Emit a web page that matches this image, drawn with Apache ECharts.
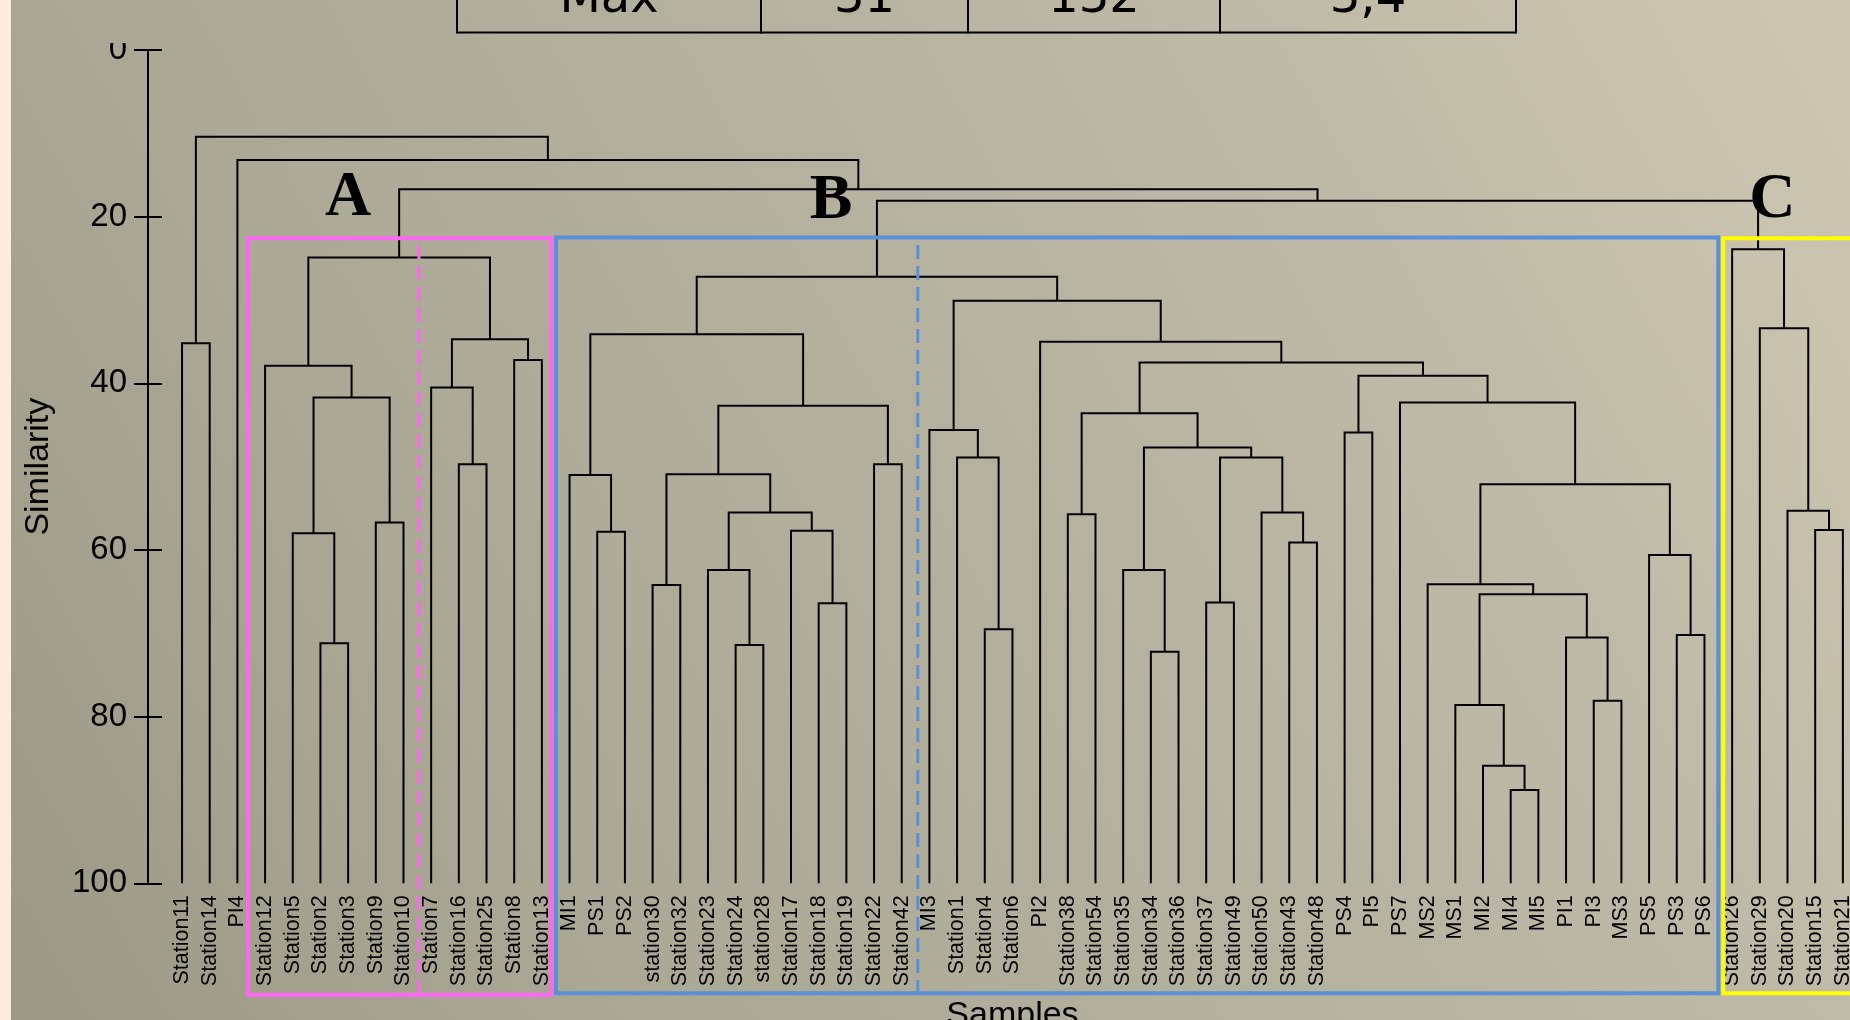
<!DOCTYPE html>
<html>
<head>
<meta charset="utf-8">
<script src="https://cdn.jsdelivr.net/npm/echarts@6/dist/echarts.min.js"></script>
<style>
html, body { margin: 0; padding: 0; background: #b1ae9c; }
#main { width: 1850px; height: 1020px; }
</style>
</head>
<body>
<div id="main"></div>
<script>
// leaves of the dendrogram, left to right
var leaves = ['Station11', 'Station14', 'PI4', 'Station12', 'Station5', 'Station2', 'Station3', 'Station9',
    'Station10', 'Station7', 'Station16', 'Station25', 'Station8', 'Station13', 'MI1', 'PS1', 'PS2',
    'station30', 'Station32', 'Station23', 'Station24', 'station28', 'Station17', 'Station18', 'Station19',
    'Station22', 'Station42', 'MI3', 'Station1', 'Station4', 'Station6', 'PI2', 'Station38', 'Station54',
    'Station35', 'Station34', 'Station36', 'Station37', 'Station49', 'Station50', 'Station43', 'Station48',
    'PS4', 'PI5', 'PS7', 'MS2', 'MS1', 'MI2', 'MI4', 'MI5', 'PI1', 'PI3', 'MS3', 'PS5', 'PS3', 'PS6',
    'Station26', 'Station29', 'Station20', 'Station15', 'Station21'];

// merges: [left, right, similarity] - a string is a leaf, a number is an earlier merge (row index)
var merges = [
    ['Station2', 'Station3', 71.2],   // 0
    ['Station5', 0, 58.0],            // 1
    ['Station9', 'Station10', 56.7],  // 2
    [1, 2, 41.7],                     // 3
    ['Station12', 3, 37.9],           // 4
    ['Station16', 'Station25', 49.7], // 5
    ['Station7', 5, 40.5],            // 6
    ['Station8', 'Station13', 37.2],  // 7
    [6, 7, 34.7],                     // 8
    [4, 8, 24.9],                     // 9  A
    ['Station11', 'Station14', 35.2], // 10
    ['PS1', 'PS2', 57.8],             // 11
    ['MI1', 11, 51.0],                // 12
    ['station30', 'Station32', 64.2], // 13
    ['Station24', 'station28', 71.4], // 14
    ['Station23', 14, 62.4],          // 15
    ['Station18', 'Station19', 66.4], // 16
    ['Station17', 16, 57.7],          // 17
    [15, 17, 55.5],                   // 18
    [13, 18, 50.9],                   // 19
    ['Station22', 'Station42', 49.7], // 20
    [19, 20, 42.7],                   // 21
    [12, 21, 34.1],                   // 22
    ['Station4', 'Station6', 69.5],   // 23
    ['Station1', 23, 48.9],           // 24
    ['MI3', 24, 45.6],                // 25
    ['Station38', 'Station54', 55.7], // 26
    ['Station34', 'Station36', 72.2], // 27
    ['Station35', 27, 62.4],          // 28
    ['Station37', 'Station49', 66.3], // 29
    ['Station43', 'Station48', 59.1], // 30
    ['Station50', 30, 55.5],          // 31
    [29, 31, 48.9],                   // 32
    [28, 32, 47.7],                   // 33
    [26, 33, 43.6],                   // 34
    ['PS4', 'PI5', 45.9],             // 35
    ['MI4', 'MI5', 88.8],             // 36
    ['MI2', 36, 85.9],                // 37
    ['MS1', 37, 78.6],                // 38
    ['PI3', 'MS3', 78.1],             // 39
    ['PI1', 39, 70.5],                // 40
    [38, 40, 65.3],                   // 41
    ['MS2', 41, 64.1],                // 42
    ['PS3', 'PS6', 70.2],             // 43
    ['PS5', 43, 60.6],                // 44
    [42, 44, 52.1],                   // 45
    ['PS7', 45, 42.3],                // 46
    [35, 46, 39.1],                   // 47
    [34, 47, 37.5],                   // 48
    ['PI2', 48, 35.0],                // 49
    [25, 49, 30.1],                   // 50
    [22, 50, 27.2],                   // 51 B
    ['Station15', 'Station21', 57.6], // 52
    ['Station20', 52, 55.3],          // 53
    ['Station29', 53, 33.4],          // 54
    ['Station26', 54, 23.9],          // 55 C
    [51, 55, 18.1],                   // 56
    [9, 56, 16.7],                    // 57
    ['PI4', 57, 13.2],                // 58
    [10, 58, 10.4]                    // 59
];

var clusterNames = ['A', 'B', 'C'];
var tableCells = ['Max', '31', '132', '3,4'];

// annotation layout (leaf units / similarity units)
var boxLayout = [[2.38, 13.33, 22.6, 113.4], [13.51, 55.5, 22.5, 113.2], [55.68, 64, 22.6, 113.2]];
var boxColors = ['#ff66f4', '#5b8fd8', '#ffff00'];
var dashLayout = [[8.56, 23.4, 114], [26.58, 23.4, 114]];
var nameLayout = [[6.0, 17.8], [23.45, 18.2], [57.45, 18.1]];
var tableEdges = [457, 761, 968, 1220, 1516];

// node positions: leaf at its index, merge at the mean of its children
var leafIndex = {};
leaves.forEach(function (name, i) { leafIndex[name] = i; });
var nodeX = [];
function childPos(c) {
    if (typeof c === 'string') return [leafIndex[c], 100];
    return [nodeX[c], merges[c][2]];
}
var linkData = merges.map(function (m, k) {
    var a = childPos(m[0]), b = childPos(m[1]);
    nodeX[k] = (a[0] + b[0]) / 2;
    return [a[0], a[1], b[0], b[1], m[2]];
});

var bgFill = {
    type: 'linear', x: 0, y: 1020, x2: 1850, y2: 0, global: true,
    colorStops: [
        { offset: 0, color: '#9b9886' },
        { offset: 0.25, color: '#aaa795' },
        { offset: 0.5, color: '#b3b09e' },
        { offset: 0.75, color: '#bfbaa7' },
        { offset: 1, color: '#cdc7b2' }
    ]
};

var graphics = [
    { type: 'rect', z: -100, shape: { x: 0, y: 0, width: 1850, height: 1020 }, style: { fill: bgFill }, silent: true },
    { type: 'rect', z: -99, shape: { x: 0, y: 0, width: 11, height: 1020 }, style: { fill: '#fdecdd' }, silent: true },
    // top of the picture is cut just above the "0" label
    { type: 'rect', z: 100, shape: { x: 60, y: 0, width: 80, height: 43 }, style: { fill: bgFill }, silent: true },
    { type: 'line', z: 100, shape: { x1: tableEdges[0], y1: 32.5, x2: tableEdges[tableEdges.length - 1], y2: 32.5 },
        style: { stroke: '#000', lineWidth: 2 }, silent: true }
];
tableEdges.forEach(function (x) {
    graphics.push({ type: 'line', z: 100, shape: { x1: x, y1: 0, x2: x, y2: 33.5 }, style: { stroke: '#000', lineWidth: 2 }, silent: true });
});
tableCells.forEach(function (t, i) {
    graphics.push({
        type: 'text', z: 100, silent: true,
        style: {
            text: t, x: (tableEdges[i] + tableEdges[i + 1]) / 2, y: -0.6,
            fill: '#000', font: '48px "DejaVu Sans"', textAlign: 'center', textVerticalAlign: 'middle'
        }
    });
});

var chart = echarts.init(document.getElementById('main'));
var option = {
    animation: false,
    graphic: graphics,
    grid: { left: 168.2, top: 50, width: 1688.5, height: 833.3, outerBoundsMode: 'none', containLabel: false },
    xAxis: [{
        type: 'category', data: leaves, boundaryGap: true, position: 'bottom',
        axisLine: { show: false, onZero: false }, axisTick: { show: false }, splitLine: { show: false },
        axisLabel: { rotate: 90, interval: 0, fontSize: 21.5, color: '#000', margin: 12, fontFamily: 'Liberation Sans' },
        name: 'Samples', nameLocation: 'middle', nameGap: 115,
        nameTextStyle: { fontSize: 34, color: '#000', fontFamily: 'Liberation Sans' }
    }, {
        type: 'value', min: -0.5, max: leaves.length - 0.5, show: false, position: 'bottom',
        axisLine: { onZero: false }
    }],
    yAxis: [{
        type: 'value', inverse: true, min: 0, max: 100, interval: 20, offset: 20.2, position: 'left',
        axisLine: { show: true, onZero: false, lineStyle: { color: '#000', width: 2 } },
        axisTick: { show: true, length: 14, lineStyle: { color: '#000', width: 2 } },
        axisLabel: { fontSize: 33, color: '#000', margin: 21, fontFamily: 'Liberation Sans' },
        splitLine: { show: false },
        name: 'Similarity', nameLocation: 'middle', nameGap: 92, nameRotate: 90,
        nameTextStyle: { fontSize: 34, color: '#000', fontFamily: 'Liberation Sans' }
    }, {
        type: 'value', inverse: true, min: 0, max: 100, interval: 20, offset: 20.2, position: 'left',
        axisLine: { show: false, onZero: false }, axisLabel: { show: false }, splitLine: { show: false },
        axisTick: { show: true, inside: true, length: 14, lineStyle: { color: '#000', width: 2 } }
    }],
    series: [{
        type: 'custom', name: 'links', xAxisIndex: 1, yAxisIndex: 0, silent: true, clip: false,
        data: linkData,
        renderItem: function (params, api) {
            var p1 = api.coord([api.value(0), api.value(1)]);
            var p2 = api.coord([api.value(0), api.value(4)]);
            var p3 = api.coord([api.value(2), api.value(4)]);
            var p4 = api.coord([api.value(2), api.value(3)]);
            return {
                type: 'polyline', shape: { points: [p1, p2, p3, p4] },
                style: { stroke: '#000', lineWidth: 2, fill: null }
            };
        }
    }, {
        type: 'custom', name: 'boxes', xAxisIndex: 1, yAxisIndex: 0, silent: true, clip: false, z: 3,
        data: boxLayout,
        renderItem: function (params, api) {
            var a = api.coord([api.value(0), api.value(2)]);
            var b = api.coord([api.value(1), api.value(3)]);
            return {
                type: 'rect', shape: { x: a[0], y: a[1], width: b[0] - a[0], height: b[1] - a[1] },
                style: { stroke: boxColors[params.dataIndex], lineWidth: 4, fill: null }
            };
        }
    }, {
        type: 'custom', name: 'dashes', xAxisIndex: 1, yAxisIndex: 0, silent: true, clip: false, z: 3,
        data: dashLayout,
        renderItem: function (params, api) {
            var a = api.coord([api.value(0), api.value(1)]);
            var b = api.coord([api.value(0), api.value(2)]);
            return {
                type: 'line', shape: { x1: a[0], y1: a[1], x2: b[0], y2: b[1] },
                style: { stroke: boxColors[params.dataIndex], lineWidth: 3, lineDash: [14, 7] }
            };
        }
    }, {
        type: 'custom', name: 'clusters', xAxisIndex: 1, yAxisIndex: 0, silent: true, clip: false, z: 4,
        data: nameLayout,
        renderItem: function (params, api) {
            var p = api.coord([api.value(0), api.value(1)]);
            return {
                type: 'text',
                style: {
                    text: clusterNames[params.dataIndex], x: p[0], y: p[1],
                    fill: '#000', font: 'bold 64px "Liberation Serif"',
                    textAlign: 'center', textVerticalAlign: 'middle'
                }
            };
        }
    }]
};
chart.setOption(option);
</script>
</body>
</html>
